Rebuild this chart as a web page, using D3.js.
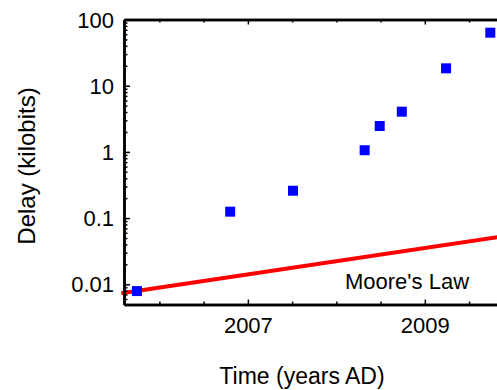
<!DOCTYPE html>
<html>
<head>
<meta charset="utf-8">
<script src="https://cdn.jsdelivr.net/npm/d3@7"></script>
<style>
  body { margin: 0; background: #fff; }
  svg { display: block; font-family: "Liberation Sans", Arial, sans-serif; }
  .axis path, .axis line { stroke: #000; }
  .axis path { stroke-width: 2.5; }
  .axis line { stroke-width: 1.5; }
</style>
</head>
<body>
<div class="chart"></div>
<script>
// data
const years = [2005.746, 2006.80, 2007.51, 2008.32, 2008.49, 2008.74, 2009.24, 2009.74];
const delays = [0.0079, 0.125, 0.259, 1.06, 2.46, 4.05, 18.3, 63.2];

// Moore's Law line (end points)
const mooreYears = [2005.57, 2009.9];
const mooreDelays = [0.0073, 0.0532];

const yTickValues = [0.01, 0.1, 1, 10, 100];
const yTickLabels = ['0.01', '0.1', '1', '10', '100'];
const xTickValues = [2007, 2009];
const xTickLabels = ['2007', '2009'];

// size
const width = 497;
const height = 390;
const plot = {left: 124, top: 19.5, bottom: 304.5, right: 531};

const svg = d3.select('.chart')
  .append('svg')
  .attr('width', width)
  .attr('height', height);

// scales
const xScale = d3.scaleLinear()
  .domain([2005.6, 2010.2])
  .range([plot.left, plot.right]);

const yScale = d3.scaleLog()
  .domain([0.00495, 100])
  .range([plot.bottom, plot.top]);

// minor ticks
const xMinor = d3.range(2006, 2010.01, 0.5).filter(d => !xTickValues.includes(d));
const yMinor = [];
[0.001].concat(yTickValues).forEach(dec => {
  for (let k = 2; k <= 9; k++) {
    const v = dec * k;
    if (v >= 0.00495 && v < 100) yMinor.push(v);
  }
});

// moore's law line
const line = d3.line()
  .x((d, i) => xScale(mooreYears[i]))
  .y(d => yScale(d));

svg.append('path')
  .datum(mooreDelays)
  .attr('d', line)
  .attr('fill', 'none')
  .attr('stroke', '#ff0000')
  .attr('stroke-width', 4);

svg.append('text')
  .attr('x', 407)
  .attr('y', 289)
  .attr('text-anchor', 'middle')
  .style('font-size', '22px')
  .text("Moore's Law");

// axes
function drawX(gen, y, values, size, labels) {
  const g = svg.append('g')
    .attr('class', 'axis')
    .attr('transform', `translate(0,${y})`)
    .call(gen(xScale)
      .tickValues(values)
      .tickSizeInner(size)
      .tickSizeOuter(0)
      .tickPadding(labels ? 12 : 0)
      .tickFormat((d, i) => labels ? labels[i] : ''));
  g.selectAll('text').style('font-size', '22px').attr('fill', '#000');
  return g;
}

function drawY(values, size, labels) {
  const g = svg.append('g')
    .attr('class', 'axis')
    .attr('transform', `translate(${plot.left},0)`)
    .call(d3.axisLeft(yScale)
      .tickValues(values)
      .tickSizeInner(size)
      .tickSizeOuter(0)
      .tickPadding(10)
      .tickFormat((d, i) => labels ? labels[i] : ''));
  g.selectAll('text').style('font-size', '22px').attr('fill', '#000').attr('dy', '0.35em');
  return g;
}

drawX(d3.axisBottom, plot.bottom, xMinor, -3, null);
drawX(d3.axisBottom, plot.bottom, xTickValues, -5, xTickLabels)
  .selectAll('text').attr('y', 13).attr('dy', '0.71em');
drawX(d3.axisTop, plot.top, xMinor, -3, null);
drawX(d3.axisTop, plot.top, xTickValues, -5, null);
drawY(yMinor, -3.5, null);
drawY(yTickValues, -6, yTickLabels);

// points
const size = 10;
svg.selectAll('.pt')
  .data(delays)
  .enter()
  .append('rect')
  .attr('class', 'pt')
  .attr('x', (d, i) => xScale(years[i]) - size / 2)
  .attr('y', d => yScale(d) - size / 2)
  .attr('width', size)
  .attr('height', size)
  .style('fill', '#0000ff');

// titles
svg.append('text')
  .attr('x', 302)
  .attr('y', 384)
  .attr('text-anchor', 'middle')
  .style('font-size', '23px')
  .text('Time (years AD)');

svg.append('text')
  .attr('transform', 'translate(35,166) rotate(-90)')
  .attr('text-anchor', 'middle')
  .style('font-size', '24px')
  .text('Delay (kilobits)');
</script>
</body>
</html>
